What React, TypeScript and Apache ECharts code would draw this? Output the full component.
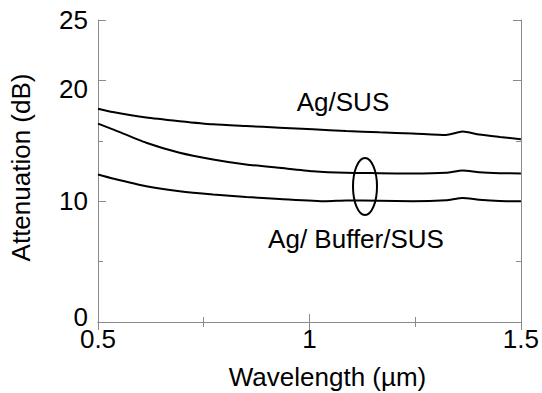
import React, { useEffect, useRef } from "react";
import * as echarts from "echarts";

const agSusX = [0.5, 0.535, 0.614, 0.693, 0.772, 0.85, 0.929, 1.008, 1.087, 1.165, 1.244, 1.323, 1.362, 1.401, 1.45, 1.5];
const agSusY = [17.66, 17.38, 16.92, 16.62, 16.36, 16.22, 16.09, 15.95, 15.81, 15.7, 15.61, 15.48, 15.76, 15.53, 15.32, 15.12];

const bufTopX = [0.5, 0.535, 0.614, 0.693, 0.772, 0.85, 0.929, 1.008, 1.087, 1.165, 1.244, 1.323, 1.362, 1.401, 1.45, 1.5];
const bufTopY = [16.42, 15.95, 14.84, 14.01, 13.46, 13.04, 12.76, 12.48, 12.35, 12.32, 12.29, 12.35, 12.54, 12.4, 12.32, 12.29];

const bufBotX = [0.5, 0.535, 0.614, 0.693, 0.772, 0.85, 0.929, 1.039, 1.087, 1.165, 1.244, 1.323, 1.362, 1.401, 1.45, 1.5];
const bufBotY = [12.21, 11.88, 11.24, 10.82, 10.55, 10.35, 10.19, 10.0, 10.06, 10.03, 9.99, 10.08, 10.27, 10.13, 10.02, 9.99];

const yTickLabels = ["0", "10", "20", "25"];
const xTickLabels = ["0.5", "1", "1.5"];

const FONT = "'Liberation Sans', Arial, sans-serif";
const AXIS_COLOR = "#8a8a8a";

function pairs(xs: number[], ys: number[]) {
  return xs.map((x, i) => [x, ys[i]]);
}

export default function App() {
  const ref = useRef<HTMLDivElement>(null);
  useEffect(() => {
    if (!ref.current) return;
    const chart = echarts.init(ref.current, undefined, { renderer: "svg" });
    const lineStyle = { color: AXIS_COLOR, width: 1 };
    const baseX = {
      type: "value" as const,
      min: 0.5,
      max: 1.5,
      interval: 0.5,
      splitLine: { show: false },
      axisLine: { show: true, lineStyle },
      axisTick: { show: true, inside: true, length: 8, lineStyle },
      minorTick: { show: true, splitNumber: 2, length: 5, lineStyle },
    };
    const baseYMajor = {
      type: "value" as const,
      min: 0,
      max: 25,
      interval: 10,
      splitLine: { show: false },
      axisLine: { show: true, lineStyle },
      axisTick: { show: true, inside: true, length: 8, lineStyle },
    };
    const baseYMinor = {
      type: "value" as const,
      min: 0,
      max: 25,
      interval: 5,
      splitLine: { show: false },
      axisLine: { show: false },
      axisLabel: { show: false },
      axisTick: { show: true, inside: true, length: 5, lineStyle },
    };
    const mkSeries = (data: number[][]) => ({
      type: "line" as const,
      data,
      xAxisIndex: 0,
      yAxisIndex: 0,
      showSymbol: false,
      smooth: 0.2,
      lineStyle: { color: "#000", width: 2 },
      silent: true,
    });
    const richBase = { fontSize: 26, color: "#000", fontFamily: FONT };
    chart.setOption({
      animation: false,
      grid: { left: 98, right: 20, top: 20, bottom: 71 },
      xAxis: [
        {
          ...baseX,
          position: "bottom",
          axisLabel: {
            show: true,
            margin: 4,
            fontSize: 26,
            color: "#000",
            fontFamily: FONT,
            formatter: (v: number) => {
              const s = String(v);
              return xTickLabels.includes(s) ? s : "";
            },
          },
        },
        { ...baseX, position: "top", axisLabel: { show: false } },
      ],
      yAxis: [
        {
          ...baseYMajor,
          position: "left",
          axisLabel: {
            show: true,
            margin: 10,
            fontSize: 26,
            color: "#000",
            fontFamily: FONT,
            formatter: (v: number) => {
              const s = String(v);
              if (!yTickLabels.includes(s)) return "";
              if (s === "0") return "{up|0}";
              if (s === "20") return "{down|20}";
              return s;
            },
            rich: {
              up: { ...richBase, padding: [0, 0, 10, 0] },
              down: { ...richBase, padding: [18, 0, 0, 0] },
            },
          },
        },
        { ...baseYMinor, position: "left" },
        { ...baseYMajor, position: "right", axisLabel: { show: false } },
        { ...baseYMinor, position: "right" },
      ],
      series: [
        mkSeries(pairs(agSusX, agSusY)),
        mkSeries(pairs(bufTopX, bufTopY)),
        mkSeries(pairs(bufBotX, bufBotY)),
      ],
      graphic: [
        {
          type: "ellipse",
          shape: { cx: 365, cy: 186.5, rx: 12, ry: 28.5 },
          style: { fill: "none", stroke: "#000", lineWidth: 2 },
          z: 10,
        },
        {
          type: "text",
          x: 343,
          y: 102,
          style: {
            text: "Ag/SUS",
            fontSize: 26,
            fontFamily: FONT,
            fill: "#000",
            textAlign: "center",
            textVerticalAlign: "middle",
          },
        },
        {
          type: "text",
          x: 356,
          y: 239,
          style: {
            text: "Ag/ Buffer/SUS",
            fontSize: 26,
            fontFamily: FONT,
            fill: "#000",
            textAlign: "center",
            textVerticalAlign: "middle",
          },
        },
        {
          type: "text",
          x: 327.5,
          y: 377,
          style: {
            text: "Wavelength (µm)",
            fontSize: 26,
            fontFamily: FONT,
            fill: "#000",
            textAlign: "center",
            textVerticalAlign: "middle",
          },
        },
        {
          type: "text",
          x: 21,
          y: 167.5,
          rotation: Math.PI / 2,
          style: {
            text: "Attenuation (dB)",
            fontSize: 26,
            fontFamily: FONT,
            fill: "#000",
            textAlign: "center",
            textVerticalAlign: "middle",
          },
        },
      ],
    });
    return () => chart.dispose();
  }, []);
  return (
    <div
      ref={ref}
      style={{ position: "fixed", left: 0, top: 0, width: 542, height: 393, background: "#fff" }}
    />
  );
}
